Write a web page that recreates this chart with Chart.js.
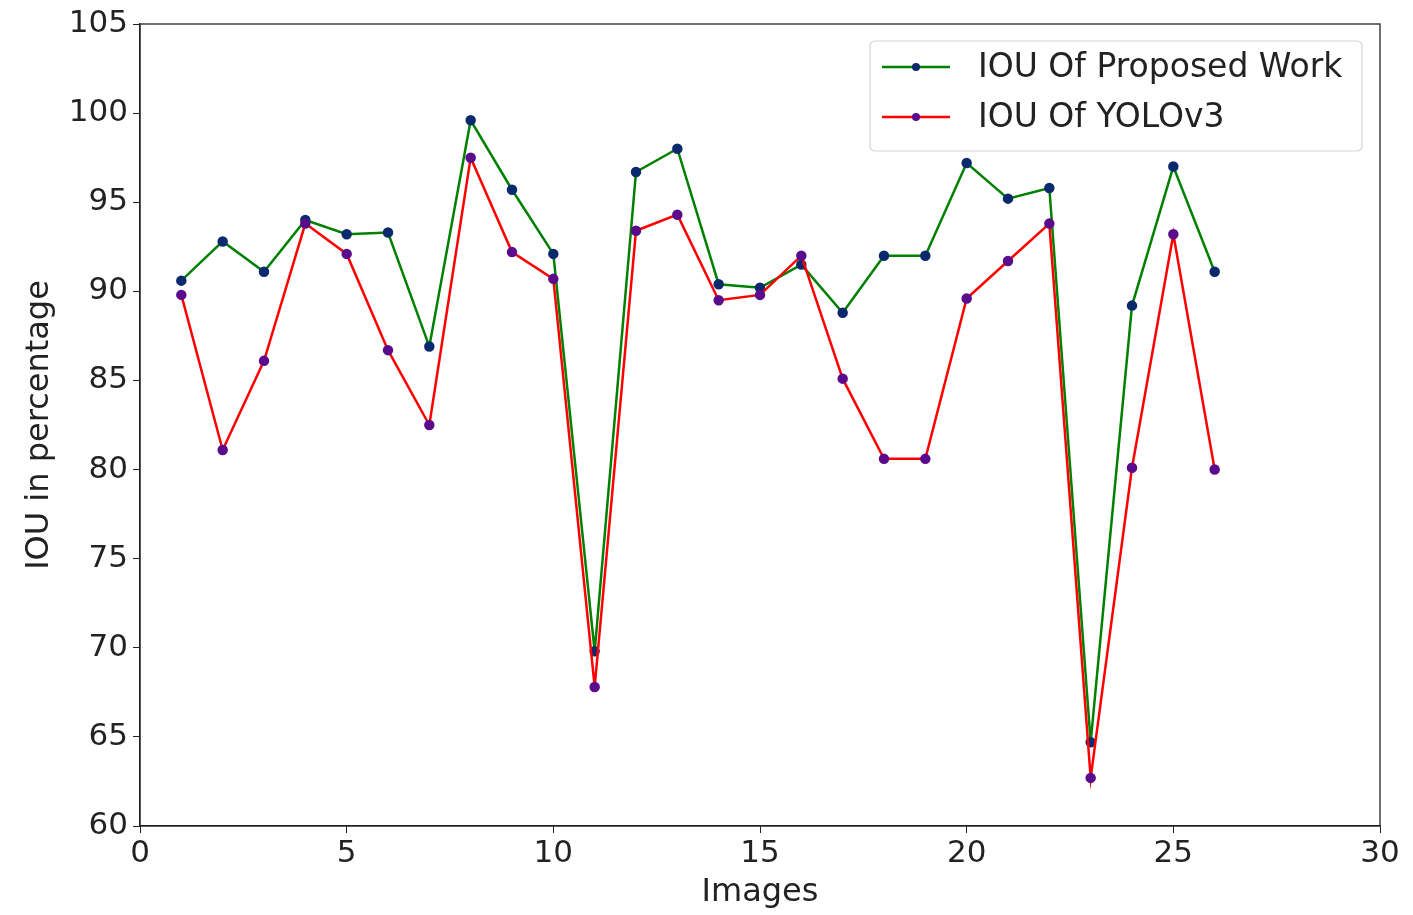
<!DOCTYPE html>
<html lang="en">
<head>
    <meta charset="UTF-8">
    <title>IOU comparison</title>
    <script src="https://cdn.jsdelivr.net/npm/chart.js"></script>
    <style>
        html, body { margin: 0; padding: 0; background: #ffffff; }
        #wrap { width: 1413px; height: 915px; position: relative; }
    </style>
</head>
<body>
<div id="wrap"><canvas id="iouChart" width="1413" height="915"></canvas></div>
<script>
    // data
    const images = [1, 2, 3, 4, 5, 6, 7, 8, 9, 10, 11, 12, 13, 14, 15, 16, 17, 18, 19, 20, 21, 22, 23, 24, 25, 26];
    const iouProposed = [90.6, 92.8, 91.1, 94.0, 93.2, 93.3, 86.9, 99.6, 95.7, 92.1, 69.8, 96.7, 98.0, 90.4, 90.2, 91.5, 88.8, 92.0, 92.0, 97.2, 95.2, 95.8, 64.7, 89.2, 97.0, 91.1];
    const iouYolo = [89.8, 81.1, 86.1, 93.8, 92.1, 86.7, 82.5, 97.5, 92.2, 90.7, 67.8, 93.4, 94.3, 89.5, 89.8, 92.0, 85.1, 80.6, 80.6, 89.6, 91.7, 93.8, 62.7, 80.1, 93.2, 80.0];
    const xTicks = [0, 5, 10, 15, 20, 25, 30];
    const yTicks = [60, 65, 70, 75, 80, 85, 90, 95, 100, 105];

    const FONT = "'DejaVu Sans', sans-serif";

    function toPoints(ys) {
        return images.map((x, i) => ({ x: x, y: ys[i] }));
    }

    // box round the plot + legend in the upper right
    const framePlugin = {
        id: 'frame',
        afterDraw(chart) {
            const ctx = chart.ctx;
            const a = chart.chartArea;
            ctx.save();
            ctx.strokeStyle = '#222';
            ctx.lineWidth = 1.3;
            ctx.strokeRect(a.left, a.top, a.right - a.left, a.bottom - a.top);

            // legend
            const bx = 870, by = 41, bw = 492, bh = 110;
            ctx.fillStyle = 'rgba(255,255,255,0.85)';
            ctx.strokeStyle = '#d6d6d6';
            ctx.lineWidth = 1.2;
            ctx.beginPath();
            ctx.roundRect(bx, by, bw, bh, 5);
            ctx.fill();
            ctx.stroke();

            chart.data.datasets.forEach((ds, i) => {
                const y = 67 + i * 50;
                ctx.strokeStyle = ds.borderColor;
                ctx.lineWidth = 2.5;
                ctx.beginPath();
                ctx.moveTo(882, y);
                ctx.lineTo(950, y);
                ctx.stroke();
                ctx.fillStyle = ds.pointBackgroundColor;
                ctx.beginPath();
                ctx.arc(916, y, 4, 0, Math.PI * 2);
                ctx.fill();
                ctx.fillStyle = '#222';
                ctx.font = '33px ' + FONT;
                ctx.textBaseline = 'middle';
                ctx.textAlign = 'left';
                ctx.fillText(ds.label, 978, y + 1);
            });
            ctx.restore();
        }
    };

    new Chart(document.getElementById('iouChart').getContext('2d'), {
        type: 'line',
        data: {
            datasets: [
                {
                    label: 'IOU Of Proposed Work',
                    data: toPoints(iouProposed),
                    borderColor: 'green',
                    borderWidth: 2.5,
                    pointRadius: 4,
                    pointBackgroundColor: '#0b2a6e',
                    pointBorderColor: '#0b2a6e',
                    fill: false,
                    tension: 0,
                    order: 1
                },
                {
                    label: 'IOU Of YOLOv3',
                    data: toPoints(iouYolo),
                    borderColor: 'red',
                    borderWidth: 2.5,
                    pointRadius: 4,
                    pointBackgroundColor: '#5a0c8c',
                    pointBorderColor: '#5a0c8c',
                    fill: false,
                    tension: 0,
                    order: 0
                }
            ]
        },
        options: {
            responsive: false,
            animation: false,
            layout: { padding: { top: 24, right: 33, left: 0, bottom: 0 } },
            plugins: {
                legend: { display: false },
                tooltip: { enabled: false }
            },
            scales: {
                x: {
                    type: 'linear',
                    min: 0,
                    max: 30,
                    afterBuildTicks(scale) { scale.ticks = xTicks.map(v => ({ value: v })); },
                    afterFit(scale) { scale.height = 89; },
                    border: { display: true, color: '#222', width: 1.3 },
                    grid: { drawOnChartArea: false, drawTicks: true, tickLength: 7, color: '#222' },
                    ticks: { color: '#222', padding: 2, maxRotation: 0, font: { family: FONT, size: 31 } },
                    title: { display: true, text: 'Images', color: '#222', padding: { top: 0, bottom: 3 }, font: { family: FONT, size: 32 } }
                },
                y: {
                    min: 60,
                    max: 105,
                    afterBuildTicks(scale) { scale.ticks = yTicks.map(v => ({ value: v })); },
                    afterFit(scale) { scale.width = 140; },
                    border: { display: true, color: '#222', width: 1.3 },
                    grid: { drawOnChartArea: false, drawTicks: true, tickLength: 7, color: '#222' },
                    ticks: { color: '#222', padding: 5, font: { family: FONT, size: 31 } },
                    title: { display: true, text: 'IOU in percentage', color: '#222', padding: { top: 20, bottom: 0 }, font: { family: FONT, size: 32 } }
                }
            }
        },
        plugins: [framePlugin]
    });
</script>
</body>
</html>
